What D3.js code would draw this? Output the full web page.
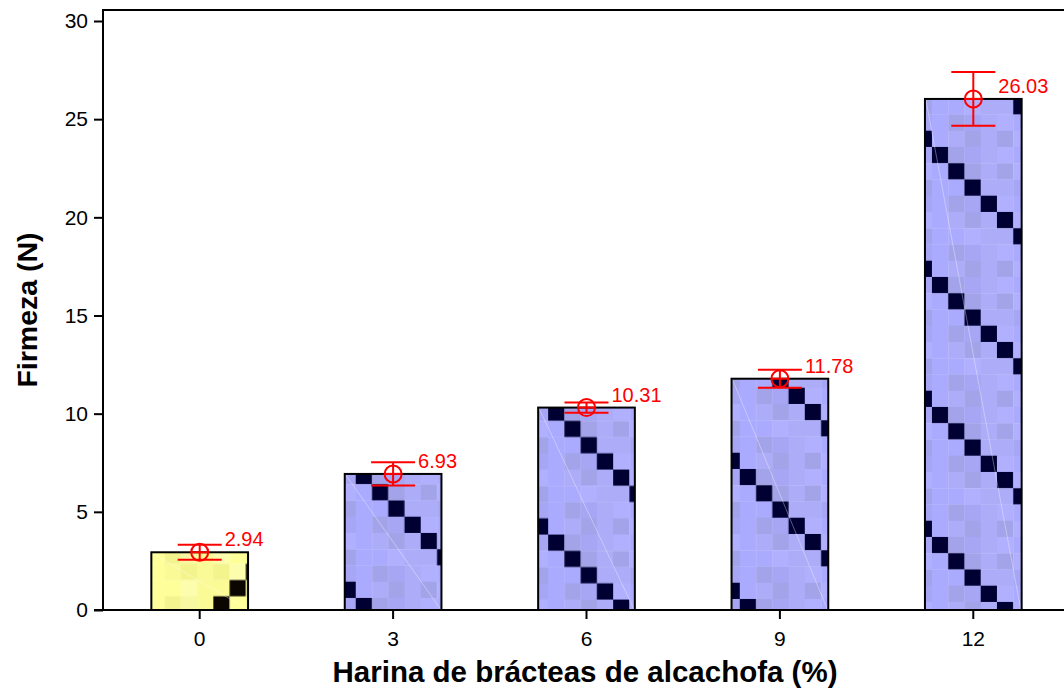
<!DOCTYPE html>
<html>
<head>
<meta charset="utf-8">
<script src="https://cdn.jsdelivr.net/npm/d3@7"></script>
<style>
  html, body { margin: 0; padding: 0; background: #fff; }
  svg { display: block; }
  text { font-family: "Liberation Sans", Arial, sans-serif; }
</style>
</head>
<body>
<svg id="chart" width="1064" height="691"></svg>
<script>
// Firmness of samples by percentage of artichoke bract flour
const categories = ["0", "3", "6", "9", "12"];
const firmeza = [2.94, 6.93, 10.31, 11.78, 26.03];
const errorSD = [0.38, 0.59, 0.26, 0.46, 1.37];
const yTicks = [0, 5, 10, 15, 20, 25, 30];

const xTitle = "Harina de brácteas de alcachofa (%)";
const yTitle = "Firmeza (N)";

// plot frame
const plot = { left: 103, right: 1070, top: 10, bottom: 610 };

const svg = d3.select("#chart");

const x = d3.scaleBand()
  .domain(categories)
  .range([plot.left, plot.right])
  .paddingInner(0.5)
  .paddingOuter(0.25);

const y = d3.scaleLinear()
  .domain([0, 30.56])
  .range([plot.bottom, plot.top]);

// ---- checkered fill tiles (8 x 8 cells with a dark diagonal) ----
const CELL = 16.25, N = 8, TILE = CELL * N;
const blueShades = ["#aaaaff", "#a6a6f4", "#b0b0ff", "#a3a3ea", "#acacf8"];
const yellowShades = ["#ffff99", "#f8f8a2", "#fdfdae", "#f4f48e", "#fafa96"];
// per-bar tile phase (offset of the tile origin relative to the bar's top-left)
const tilePhase = [[-3, -4.75], [11, -6], [10, -3], [8.25, -39.75], [7, 48]];

const defs = svg.append("defs");
categories.forEach((c, k) => {
  const yellow = k === 0;
  const shades = yellow ? yellowShades : blueShades;
  const dark = yellow ? "#0c0600" : "#000033";
  const bx = x(c), by = y(firmeza[k]);
  const pat = defs.append("pattern")
    .attr("id", "tile" + k)
    .attr("patternUnits", "userSpaceOnUse")
    .attr("width", TILE).attr("height", TILE)
    .attr("patternTransform", `translate(${bx + tilePhase[k][0]},${by + tilePhase[k][1]})`);
  const cells = [];
  for (let i = 0; i < N; i++) for (let j = 0; j < N; j++) cells.push({ i, j });
  pat.selectAll("rect").data(cells).join("rect")
    .attr("x", d => d.i * CELL).attr("y", d => d.j * CELL)
    .attr("width", CELL + 0.3).attr("height", CELL + 0.3)
    .attr("fill", d => {
      const onDiag = yellow ? (d.j === N - 1 - d.i) : (d.j === d.i);
      if (onDiag) return dark;
      return shades[(d.i * 3 + d.j * 5 + (d.i * d.j) % 3) % shades.length];
    });
});

// ---- bars ----
const bars = svg.append("g");
bars.selectAll("rect").data(categories).join("rect")
  .attr("x", c => x(c))
  .attr("y", (c, k) => y(firmeza[k]))
  .attr("width", x.bandwidth())
  .attr("height", (c, k) => y(0) - y(firmeza[k]))
  .attr("fill", (c, k) => `url(#tile${k})`);

// faint highlight streak across each bar
bars.selectAll("line").data(categories).join("line")
  .attr("x1", c => x(c) + 1).attr("y1", (c, k) => y(firmeza[k]) + 1)
  .attr("x2", c => x(c) + x.bandwidth() - 1).attr("y2", y(0) - 1)
  .attr("stroke", "#ffffff").attr("stroke-opacity", 0.35).attr("stroke-width", 1);

bars.selectAll("rect.outline").data(categories).join("rect")
  .attr("class", "outline")
  .attr("x", c => x(c))
  .attr("y", (c, k) => y(firmeza[k]))
  .attr("width", x.bandwidth())
  .attr("height", (c, k) => y(0) - y(firmeza[k]))
  .attr("fill", "none").attr("stroke", "#000").attr("stroke-width", 2);

// ---- axes ----
const yAxis = d3.axisLeft(y).tickValues(yTicks).tickSize(9).tickPadding(6).tickFormat(d3.format("d"));
const gy = svg.append("g").attr("transform", `translate(${plot.left},0)`).call(yAxis);
gy.select(".domain").remove();
gy.selectAll(".tick line").attr("stroke", "#000").attr("stroke-width", 2);
gy.selectAll(".tick text").attr("font-size", 21).attr("fill", "#000")
  .style("font-family", '"Liberation Sans", Arial, sans-serif');

const xAxis = d3.axisBottom(x).tickSize(9).tickPadding(12);
const gx = svg.append("g").attr("transform", `translate(0,${plot.bottom})`).call(xAxis);
gx.select(".domain").remove();
gx.selectAll(".tick line").attr("stroke", "#000").attr("stroke-width", 2);
gx.selectAll(".tick text").attr("font-size", 21).attr("fill", "#000")
  .style("font-family", '"Liberation Sans", Arial, sans-serif');

// frame lines
svg.append("path")
  .attr("d", `M${plot.left - 9},${plot.bottom}H${plot.right}V${plot.top}H${plot.left}V${plot.bottom}`)
  .attr("fill", "none").attr("stroke", "#000").attr("stroke-width", 2);

// ---- error bars with mean markers ----
const eb = svg.append("g").attr("stroke", "#ff0000").attr("stroke-width", 2).attr("fill", "none");
const cx = c => x(c) + x.bandwidth() / 2;
const CAP = 22, R = 8.5;
categories.forEach((c, k) => {
  const m = firmeza[k], s = errorSD[k];
  const g = eb.append("g");
  g.append("line").attr("x1", cx(c)).attr("x2", cx(c)).attr("y1", y(m + s)).attr("y2", y(m - s));
  g.append("line").attr("x1", cx(c) - CAP).attr("x2", cx(c) + CAP).attr("y1", y(m + s)).attr("y2", y(m + s));
  g.append("line").attr("x1", cx(c) - CAP).attr("x2", cx(c) + CAP).attr("y1", y(m - s)).attr("y2", y(m - s));
  g.append("circle").attr("cx", cx(c)).attr("cy", y(m)).attr("r", R);
  g.append("line").attr("x1", cx(c) - R).attr("x2", cx(c) + R).attr("y1", y(m)).attr("y2", y(m));
});

// value labels
svg.append("g").selectAll("text").data(categories).join("text")
  .attr("x", c => cx(c) + 25)
  .attr("y", (c, k) => y(firmeza[k]) - 6)
  .attr("fill", "#ff0000")
  .attr("font-size", 20)
  .text((c, k) => firmeza[k].toFixed(2));

// ---- axis titles ----
svg.append("text")
  .attr("x", (plot.left + 1067) / 2).attr("y", 682)
  .attr("text-anchor", "middle")
  .attr("font-size", 29.5).attr("font-weight", "bold")
  .text(xTitle);

svg.append("text")
  .attr("transform", `translate(37,${(plot.top + plot.bottom) / 2}) rotate(-90)`)
  .attr("text-anchor", "middle")
  .attr("font-size", 28.5).attr("font-weight", "bold")
  .text(yTitle);
</script>
</body>
</html>
